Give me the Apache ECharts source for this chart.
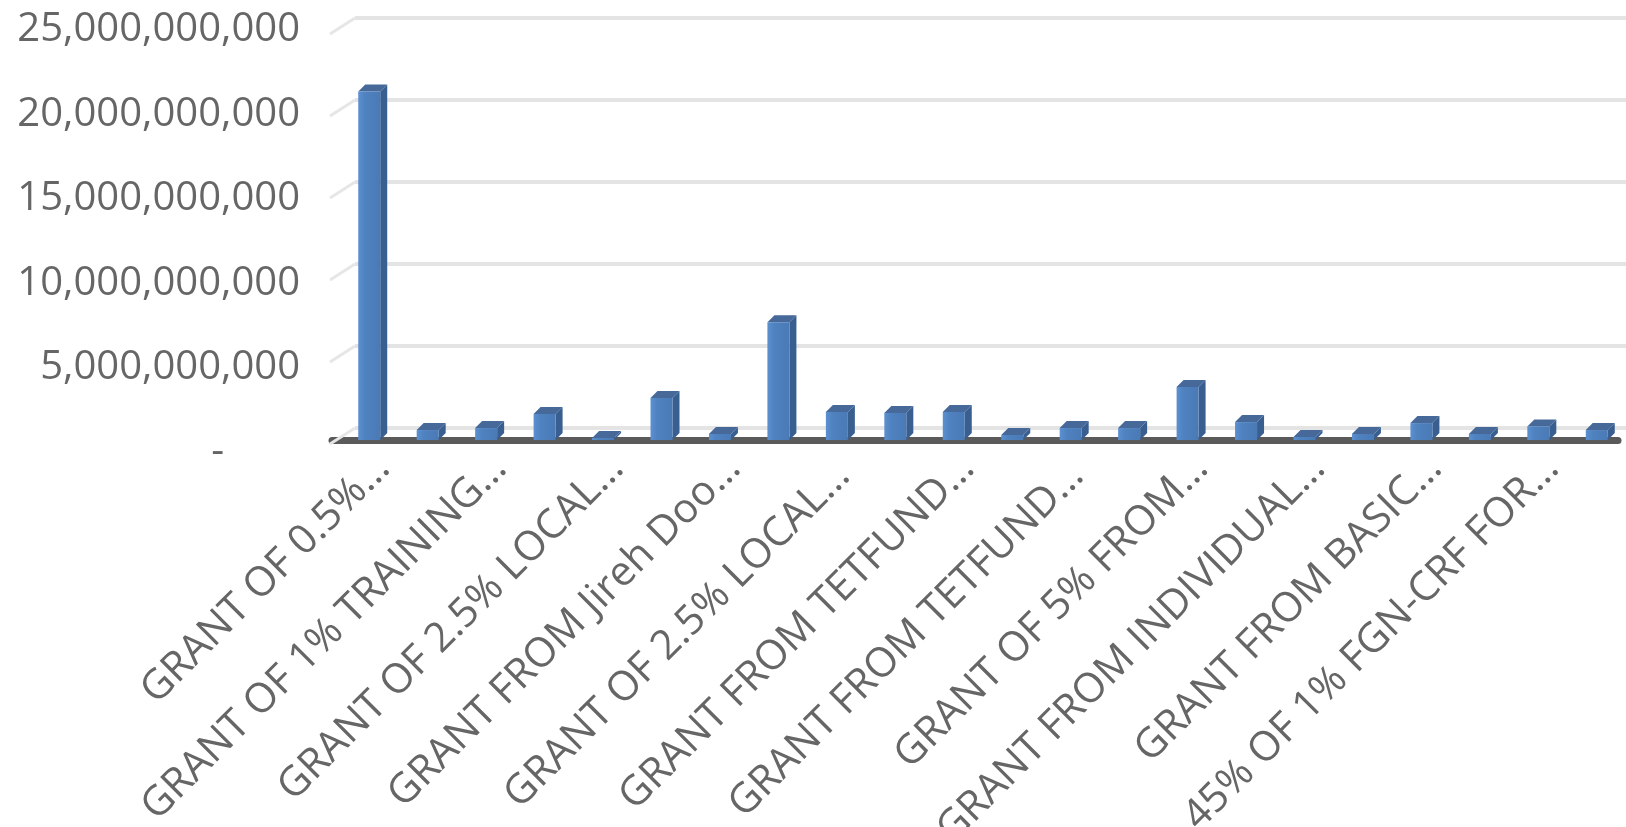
<!DOCTYPE html>
<html>
<head>
<meta charset="utf-8">
<title>Grants</title>
<script src="https://cdn.jsdelivr.net/npm/echarts@6/dist/echarts.min.js"></script>
<style>
  html, body { margin: 0; padding: 0; background: #fff; }
  #chart { width: 1626px; height: 827px; }
</style>
</head>
<body>
<div id="chart"></div>
<script>
// categories (only every other label is shown, as in the original)
var categories = [
  "GRANT OF 0.5%…", "GRANT 2", "GRANT OF 1% TRAINING…", "GRANT 4",
  "GRANT OF 2.5% LOCAL…", "GRANT 6", "GRANT FROM Jireh Doo…", "GRANT 8",
  "GRANT OF 2.5% LOCAL… ", "GRANT 10", "GRANT FROM TETFUND…", "GRANT 12",
  "GRANT FROM TETFUND… ", "GRANT 14", "GRANT OF 5% FROM…", "GRANT 16",
  "GRANT FROM INDIVIDUAL…", "GRANT 18", "GRANT FROM BASIC…", "GRANT 20",
  "45% OF 1% FGN-CRF FOR…", "GRANT 22"
];
// amounts
var amounts = [
  21.0e9, 0.6e9, 0.72e9, 1.57e9, 0.12e9, 2.53e9, 0.36e9, 7.1e9,
  1.69e9, 1.63e9, 1.69e9, 0.3e9, 0.72e9, 0.72e9, 3.2e9, 1.08e9,
  0.18e9, 0.36e9, 1.02e9, 0.36e9, 0.82e9, 0.6e9
];
var yTicks = [0, 5e9, 10e9, 15e9, 20e9, 25e9];
var yMax = 25e9;
var yStep = 5e9;

var labelFont = '"Open Sans", sans-serif';
var labelColor = "#666666";

// 3D bar look
var barW = 22;
var depth = 7;
var barShift = 8;

function renderBar(params, api) {
  var top = api.coord([api.value(0), api.value(1)]);
  var base = api.coord([api.value(0), 0]);
  var x = top[0] + barShift - barW / 2;
  var y = top[1];
  var b = base[1];
  return {
    type: "group",
    children: [
      {
        type: "polygon",
        shape: { points: [[x + barW, y], [x + barW + depth, y - depth], [x + barW + depth, b - depth], [x + barW, b]] },
        style: { fill: "#385f90" }
      },
      {
        type: "polygon",
        shape: { points: [[x, y], [x + depth, y - depth], [x + barW + depth, y - depth], [x + barW, y]] },
        style: { fill: "#46699a" }
      },
      {
        type: "rect",
        shape: { x: x, y: y, width: barW, height: b - y },
        style: {
          fill: new echarts.graphic.LinearGradient(0, 0, 1, 0, [
            { offset: 0, color: "#5d90cf" },
            { offset: 0.3, color: "#4f82c0" },
            { offset: 1, color: "#4a7ab6" }
          ])
        }
      }
    ]
  };
}

// short diagonal lines of the side wall
function renderWallTick(params, api) {
  var p = api.coord([0, api.value(0)]);
  return {
    type: "line",
    shape: { x1: p[0], y1: p[1], x2: p[0] - 25, y2: p[1] + 16 },
    style: { stroke: "#e6e6e6", lineWidth: 3 }
  };
}

var myChart = echarts.init(document.getElementById("chart"));
var option = {
  animation: false,
  grid: [
    // bars
    { left: 332, width: 1286, top: 25, height: 415, outerBoundsMode: "none" },
    // back wall grid lines
    { left: 355, right: 0, top: 18, height: 410, outerBoundsMode: "none" },
    // text labels
    { left: 354, width: 1286, top: 30, height: 422, outerBoundsMode: "none" }
  ],
  xAxis: [
    {
      gridIndex: 0,
      type: "category",
      data: categories,
      offset: 3.5,
      axisLine: { show: true, lineStyle: { color: "#5a5a5a", width: 7 } },
      axisTick: { show: false },
      axisLabel: { show: false }
    },
    { gridIndex: 1, type: "value", min: 0, max: 1, show: false },
    {
      gridIndex: 2,
      type: "category",
      data: categories,
      axisLine: { show: false },
      axisTick: { show: false },
      axisLabel: {
        interval: 1,
        rotate: 45,
        margin: 10,
        fontFamily: labelFont,
        fontSize: 41,
        color: labelColor
      }
    }
  ],
  yAxis: [
    { gridIndex: 0, type: "value", min: 0, max: yMax, show: false },
    {
      gridIndex: 1,
      type: "value",
      min: 0,
      max: yMax,
      interval: yStep,
      axisLine: { show: false },
      axisTick: { show: false },
      axisLabel: { show: false },
      splitLine: { show: true, lineStyle: { color: "#e4e4e4", width: 4 } }
    },
    {
      gridIndex: 2,
      type: "value",
      min: 0,
      max: yMax,
      interval: yStep,
      axisLine: { show: false },
      axisTick: { show: false },
      splitLine: { show: false },
      axisLabel: {
        margin: 54,
        fontFamily: labelFont,
        fontSize: 40,
        color: labelColor,
        formatter: function (v) {
          if (v === 0) return "{d|-}";
          return v.toLocaleString("en-US");
        },
        rich: {
          d: { fontFamily: labelFont, fontSize: 40, color: labelColor, padding: [0, 76, 0, 0] }
        }
      }
    }
  ],
  series: [
    {
      type: "custom",
      xAxisIndex: 1,
      yAxisIndex: 1,
      renderItem: renderWallTick,
      data: yTicks.map(function (t) { return [t]; }),
      z: 1
    },
    {
      type: "custom",
      xAxisIndex: 0,
      yAxisIndex: 0,
      renderItem: renderBar,
      data: amounts.map(function (v, i) { return [i, v]; }),
      z: 5
    }
  ]
};
myChart.setOption(option);
</script>
</body>
</html>
